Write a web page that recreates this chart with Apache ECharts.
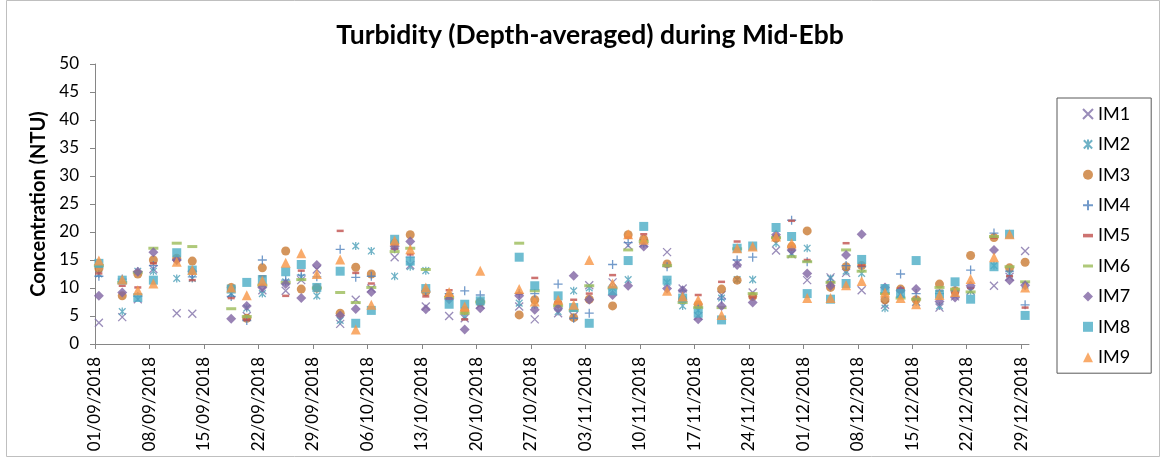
<!DOCTYPE html>
<html>
<head>
<meta charset="utf-8">
<script src="https://cdn.jsdelivr.net/npm/echarts@6/dist/echarts.min.js"></script>
<style>
html,body{margin:0;padding:0;background:#fff;}
#chart{width:1162px;height:459px;}
</style>
</head>
<body>
<div id="chart"></div>
<script>
// Sampling dates (Tue/Thu/Sat schedule)
const dates = [
 '2018-09-01','2018-09-04','2018-09-06','2018-09-08','2018-09-11','2018-09-13','2018-09-18','2018-09-20','2018-09-22','2018-09-25',
 '2018-09-27','2018-09-29','2018-10-02','2018-10-04','2018-10-06','2018-10-09','2018-10-11','2018-10-13','2018-10-16','2018-10-18',
 '2018-10-20','2018-10-25','2018-10-27','2018-10-30','2018-11-01','2018-11-03','2018-11-06','2018-11-08','2018-11-10','2018-11-13',
 '2018-11-15','2018-11-17','2018-11-20','2018-11-22','2018-11-24','2018-11-27','2018-11-29','2018-12-01','2018-12-04','2018-12-06',
 '2018-12-08','2018-12-11','2018-12-13','2018-12-15','2018-12-18','2018-12-20','2018-12-22','2018-12-25','2018-12-27','2018-12-29'
];

const im1 = [3.8,4.8,8.0,13.4,5.5,5.4,9.0,5.0,9.6,9.5,11.4,13.3,3.6,7.9,9.9,15.5,14.1,6.7,5.0,4.6,7.0,6.7,4.4,5.5,5.0,10.5,11.0,17.6,18.0,16.4,9.9,5.0,8.75,14.4,9.2,16.7,16.0,11.4,11.9,12.7,9.6,7.0,9.0,7.5,6.5,8.5,9.5,10.4,12.0,16.6];
const im2 = [12.5,5.8,13.0,13.0,11.7,11.7,9.0,6.4,9.0,11.1,11.9,8.6,4.2,17.5,16.6,12.1,13.8,13.1,8.5,4.9,7.5,7.3,7.0,5.8,9.5,10.0,10.0,11.5,18.0,11.0,6.8,6.0,8.2,11.5,11.5,18.0,16.2,17.1,11.7,13.0,12.6,6.4,9.0,7.5,6.8,9.0,9.5,14.0,12.5,10.5];
const im3 = [13.5,8.6,12.5,15.0,15.3,14.8,10.1,4.6,13.6,16.6,9.8,10.0,5.5,13.7,12.5,18.0,19.5,9.3,8.5,6.0,7.5,5.2,7.9,7.2,4.7,8.0,6.8,19.5,18.7,14.3,8.0,7.0,9.8,11.4,8.5,18.9,17.4,20.2,10.1,13.8,14.0,7.9,9.8,7.9,10.7,9.5,15.8,19.0,13.6,14.6];
const im4 = [12.1,11.6,8.5,14.0,15.0,12.0,8.5,4.2,15.0,11.4,12.3,12.0,16.9,11.9,12.1,17.0,15.5,9.5,9.0,9.5,8.75,9.0,9.0,10.7,4.6,5.5,14.2,18.1,18.0,13.8,9.5,6.5,8.0,15.0,15.5,19.0,22.1,14.7,11.0,14.0,13.8,9.0,12.5,9.0,9.0,9.5,13.2,19.8,13.0,7.0];
const im5 = [12.6,10.4,10.1,14.4,14.8,11.4,8.2,4.3,12.1,8.6,13.1,10.0,20.2,12.7,10.8,17.0,16.0,8.5,9.6,4.4,7.5,9.0,11.8,7.5,7.9,9.0,12.3,19.0,19.6,14.0,8.0,8.75,11.1,18.3,8.3,19.0,22.0,15.0,11.0,18.0,14.0,9.0,9.9,8.0,9.5,9.0,10.0,19.0,12.1,6.5];
const im6 = [14.0,11.0,12.8,17.1,18.0,17.4,6.3,4.9,10.5,11.0,11.5,10.0,9.2,7.4,10.1,16.5,17.1,13.3,8.3,5.5,7.5,18.0,9.5,6.8,6.0,10.4,10.0,16.8,18.3,14.0,7.4,6.5,6.5,17.0,9.0,19.0,15.6,14.7,11.0,16.8,13.0,9.0,8.2,8.0,10.1,9.8,9.3,19.2,13.8,11.1];
const im7 = [8.6,9.2,12.9,16.4,15.0,13.0,4.5,6.8,10.1,10.7,8.2,14.1,5.1,6.25,9.3,17.4,18.3,6.2,8.0,2.6,6.4,8.6,6.1,6.4,12.2,7.9,8.75,10.4,17.4,9.9,9.6,4.4,6.8,14.1,7.4,19.5,16.8,12.6,10.4,15.9,19.6,10.1,9.5,9.8,7.6,8.3,10.4,16.8,11.4,10.5];
const im8 = [14.4,11.4,8.3,11.4,16.3,13.2,9.8,11.0,11.5,12.9,14.2,10.1,13.0,3.7,6.0,18.7,14.8,9.9,7.1,7.1,7.7,15.5,10.4,8.6,6.5,3.7,9.5,14.9,21.0,11.4,8.2,5.5,4.3,17.1,17.5,20.8,19.2,9.0,8.0,10.8,15.1,9.9,9.0,14.9,8.9,11.1,8.0,13.8,19.6,5.1];
const im9 = [14.9,11.5,9.6,10.8,14.7,13.2,10.1,8.7,11.3,14.5,16.2,12.5,15.1,2.6,7.0,18.5,16.9,10.1,9.3,6.7,13.1,9.8,7.6,7.9,7.0,15.0,10.8,19.6,18.6,9.5,8.5,7.9,5.2,17.1,17.4,19.2,18.0,8.2,8.2,10.5,11.25,9.2,8.2,7.1,8.75,9.3,11.6,15.5,19.6,10.1];

const seriesNames = ['IM1','IM2','IM3','IM4','IM5','IM6','IM7','IM8','IM9'];
const xTickLabels = ['01/09/2018','08/09/2018','15/09/2018','22/09/2018','29/09/2018','06/10/2018','13/10/2018','20/10/2018',
 '27/10/2018','03/11/2018','10/11/2018','17/11/2018','24/11/2018','01/12/2018','08/12/2018','15/12/2018','22/12/2018','29/12/2018'];
const yTicks = [0,5,10,15,20,25,30,35,40,45,50];

const T0 = Date.UTC(2018,8,1);
function dayOf(iso){ const p = iso.split('-').map(Number); return (Date.UTC(p[0],p[1]-1,p[2]) - T0)/86400000; }
function dayOfLabel(l){ const p = l.split('/').map(Number); return (Date.UTC(p[2],p[1]-1,p[0]) - T0)/86400000; }
const tickDays = xTickLabels.map(dayOfLabel);
const labelByDay = {}; tickDays.forEach((d,i)=>{ labelByDay[d] = xTickLabels[i]; });
const xs = dates.map(d => dayOf(d) + 0.5);

const allValues = [im1,im2,im3,im4,im5,im6,im7,im8,im9];
const styles = [
  {symbol:'path://M0,0L10,10M10,0L0,10', size:8, color:'#7f6fa8', stroke:1.3},
  {symbol:'path://M0,0L10,10M10,0L0,10M5,-1L5,11', size:8, color:'#4b9fb8', stroke:1.3},
  {symbol:'circle', size:9, color:'#c97a33'},
  {symbol:'path://M5,0L5,10M0,5L10,5', size:9, color:'#4f81bd', stroke:1.3},
  {symbol:'path://M0,0h7v2.5h-7z', size:7, color:'#c0504d'},
  {symbol:'path://M0,0h10v3h-10z', size:10, color:'#9bbb59'},
  {symbol:'diamond', size:10, color:'#8064a2'},
  {symbol:'rect', size:9, color:'#4bacc6'},
  {symbol:'triangle', size:10, color:'#f79646'}
];

const series = seriesNames.map((name,i)=>{
  const st = styles[i];
  const itemStyle = st.stroke ? {color: st.color, borderColor: st.color, borderWidth: st.stroke} : {color: st.color, borderWidth: 0};
  return {
    name, type:'scatter', symbol: st.symbol, symbolSize: st.size, symbolKeepAspect: true,
    itemStyle, emphasis:{disabled:true},
    data: xs.map((x,k)=>[x, allValues[i][k]]),
    z: 2 + i
  };
});

const FONT = 'Lato';
const chart = echarts.init(document.getElementById('chart'), null, {renderer:'canvas'});
chart.setOption({
  animation:false,
  backgroundColor:'#ffffff',
  title:{
    text:'Turbidity (Depth-averaged) during Mid-Ebb',
    left: 590, textAlign:'center', top: 22, padding:0,
    textStyle:{fontFamily:FONT, fontWeight:'bold', fontSize:26.5, color:'#000'}
  },
  graphic:[{type:'rect', shape:{x:6.5,y:0.5,width:1153,height:456}, style:{fill:'none', stroke:'#bfbfbf', lineWidth:1}, silent:true, z:-1}],
  grid:{left:95, top:64, width:934, height:280, containLabel:false},
  legend:{
    orient:'vertical', left:1057, top:98,
    padding:[7,21,7,25], itemGap:12.4, itemWidth:10, itemHeight:10,
    borderColor:'#595959', borderWidth:1,
    textStyle:{fontFamily:FONT, fontSize:18, color:'#000', lineHeight:18},
    data: seriesNames, selectedMode:false
  },
  xAxis:{
    type:'value', min:0, max:120, interval:7,
    axisLine:{onZero:false, lineStyle:{color:'#868686', width:1}},
    axisTick:{show:true, length:5, lineStyle:{color:'#868686'}, customValues: tickDays},
    splitLine:{show:false},
    axisLabel:{
      customValues: tickDays, rotate:90, margin:13,
      fontFamily:FONT, fontSize:17, color:'#000',
      formatter: v => labelByDay[Math.round(v)] || ''
    }
  },
  yAxis:{
    type:'value', min:yTicks[0], max:yTicks[yTicks.length-1], interval:5,
    name:'Concentration (NTU)', nameLocation:'middle', nameRotate:90, nameGap:45,
    nameTextStyle:{fontFamily:FONT, fontWeight:'bold', fontSize:20, color:'#000'},
    axisLine:{show:true, lineStyle:{color:'#868686', width:1}},
    axisTick:{show:true, length:5, lineStyle:{color:'#868686'}},
    splitLine:{show:false},
    axisLabel:{fontFamily:FONT, fontSize:17, color:'#000', margin:16}
  },
  series
});
</script>
</body>
</html>
